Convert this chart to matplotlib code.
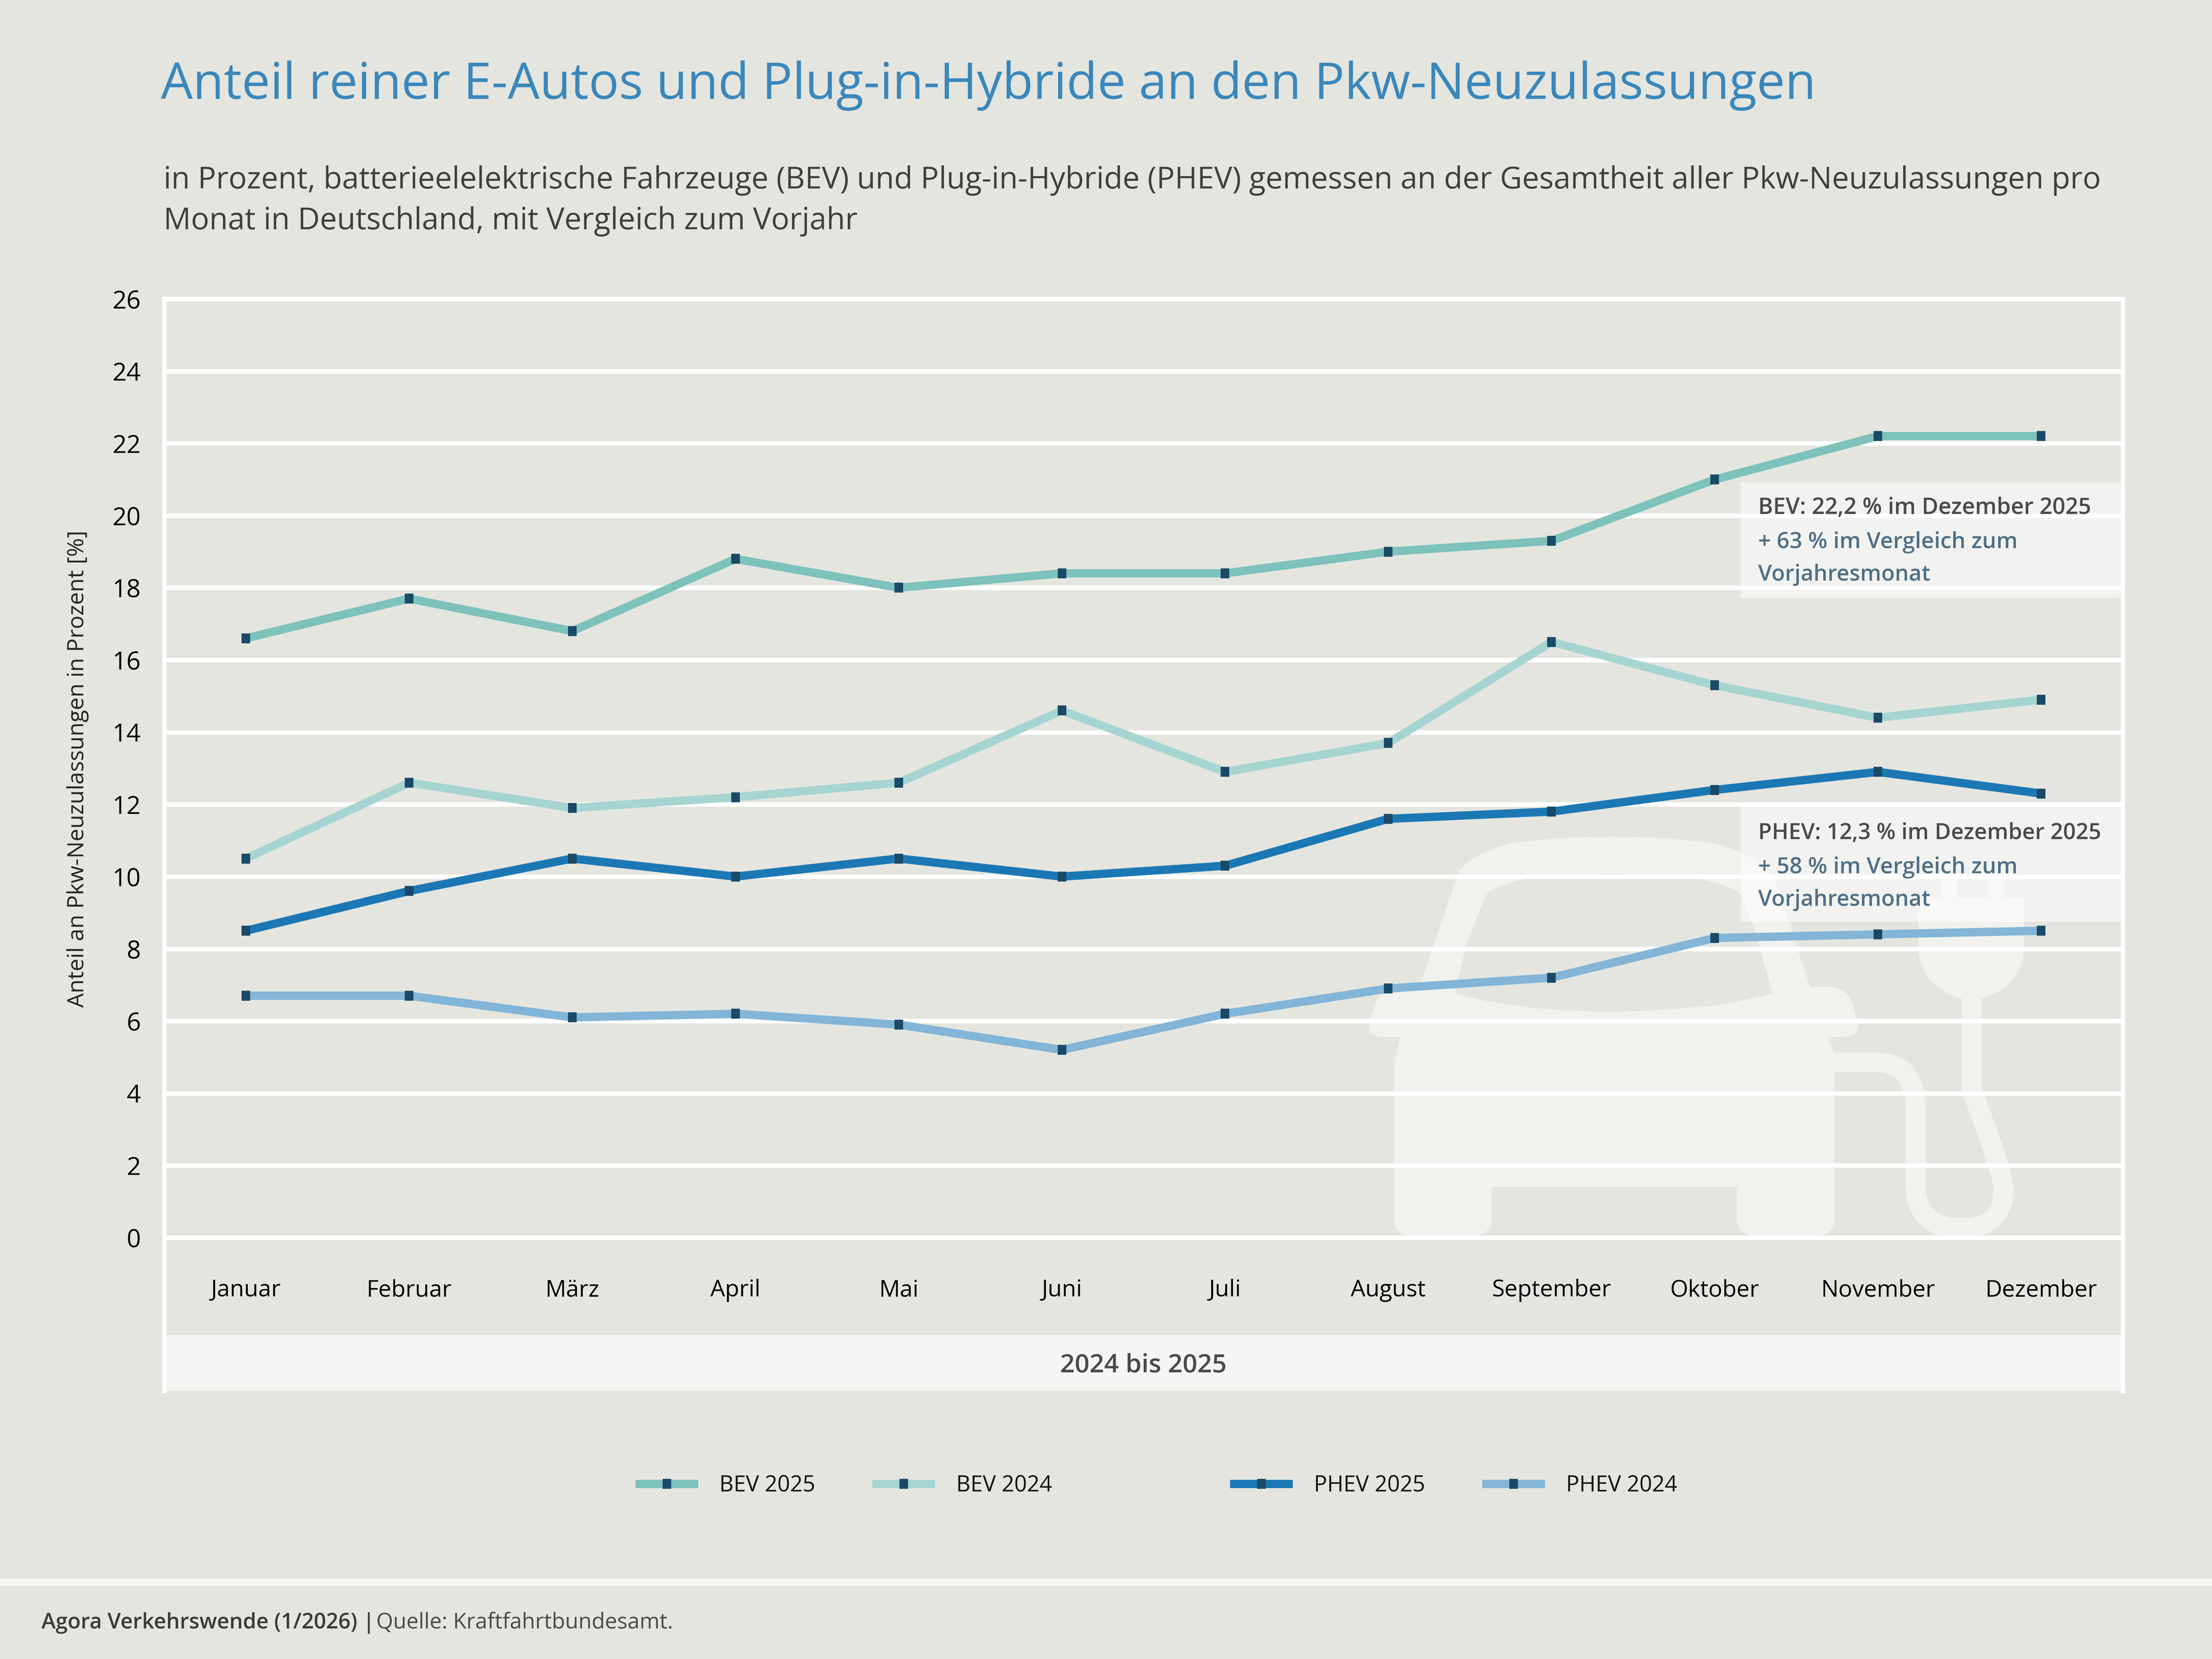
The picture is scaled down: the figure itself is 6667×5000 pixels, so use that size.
import matplotlib
matplotlib.use("Agg")
import matplotlib.pyplot as plt
from matplotlib.path import Path
from matplotlib.patches import PathPatch, Rectangle
from matplotlib.transforms import Affine2D

months = ["Januar", "Februar", "März", "April", "Mai", "Juni", "Juli", "August",
          "September", "Oktober", "November", "Dezember"]
bev_2025 = [16.6, 17.7, 16.8, 18.8, 18.0, 18.4, 18.4, 19.0, 19.3, 21.0, 22.2, 22.2]
bev_2024 = [10.5, 12.6, 11.9, 12.2, 12.6, 14.6, 12.9, 13.7, 16.5, 15.3, 14.4, 14.9]
phev_2025 = [8.5, 9.6, 10.5, 10.0, 10.5, 10.0, 10.3, 11.6, 11.8, 12.4, 12.9, 12.3]
phev_2024 = [6.7, 6.7, 6.1, 6.2, 5.9, 5.2, 6.2, 6.9, 7.2, 8.3, 8.4, 8.5]
yticks = list(range(0, 27, 2))

W, H, DPI = 6667, 5000, 600
PX = 72 / DPI
BG = "#e4e5df"
plt.rcParams["font.family"] = ["Open Sans", "DejaVu Sans"]

fig = plt.figure(figsize=(W / DPI, H / DPI), dpi=DPI, facecolor=BG)

def fx(x): return x / W
def fy(y): return 1 - y / H

L, R, T, B, Y0 = 495, 6398, 901, 4192, 3730
unit = (Y0 - T) / 26
ymin = -(B - Y0) / unit
ax = fig.add_axes([fx(L), fy(B), (R - L) / W, (B - T) / H], facecolor="none")
ax.set_xlim(-0.5, 11.5)
ax.set_ylim(ymin, 26)

ax.set_axisbelow(True)
ax.set_yticks(yticks)
ax.set_xticks(range(12))
ax.set_xticklabels(months)
ax.grid(axis="y", color="white", lw=13.5 * PX)
for gl in ax.get_ygridlines():
    gl.set_clip_on(False)
ax.tick_params(axis="y", length=0, pad=8.5, labelsize=9.0, labelcolor="black")
ax.tick_params(axis="x", length=0, pad=-40.5, labelsize=8.4, labelcolor="black")
for s in ("top", "bottom"):
    ax.spines[s].set_visible(False)
for s in ("left", "right"):
    ax.spines[s].set_color("white")
    ax.spines[s].set_linewidth(12.5 * PX)

# band below the month labels
ax.axhspan(ymin, (Y0 - 4023) / unit, color="#f5f5f3", lw=0, zorder=0.3)
ax.text(5.5, (Y0 - 4116) / unit, "2024 bis 2025", ha="center", va="center",
        fontsize=9.3, color="#4a4a48", fontweight="semibold")

# icon: geometry in px of a reference crop
icon_tf = Affine2D().scale(2600 / 1568, -1500 / 1568).translate(3900, H - 2300)
ICON = "#f1f2ee"
M, LN, C, Z = Path.MOVETO, Path.LINETO, Path.CURVE3, Path.CLOSEPOLY
car = [
    (M, (300, 340)), (C, (325, 285)), (C, (390, 255)), (C, (470, 232)), (C, (575, 232)),
    (C, (690, 232)), (C, (770, 255)), (C, (850, 295)), (C, (875, 370)),
    (LN, (938, 705)), (LN, (975, 705)), (C, (1010, 710)), (C, (1018, 775)), (LN, (1026, 825)),
    (C, (1026, 862)), (C, (1000, 862)), (LN, (970, 862)), (LN, (982, 915)),
    (LN, (982, 1440)), (C, (982, 1495)), (C, (925, 1495)), (LN, (860, 1495)),
    (C, (805, 1495)), (C, (805, 1440)), (LN, (805, 1335)), (LN, (359, 1335)), (LN, (359, 1440)),
    (C, (359, 1495)), (C, (300, 1495)), (LN, (240, 1495)), (C, (182, 1495)), (C, (182, 1440)),
    (LN, (182, 950)), (LN, (193, 862)), (LN, (160, 862)), (C, (136, 862)), (C, (136, 825)),
    (LN, (150, 750)), (C, (158, 710)), (C, (228, 705)), (LN, (300, 340)), (Z, (300, 340)),
    # windscreen hole, wound the other way
    (M, (292, 725)), (C, (350, 755)), (C, (430, 770)), (C, (500, 783)), (C, (575, 783)),
    (C, (650, 783)), (C, (720, 770)), (C, (800, 760)), (C, (870, 725)),
    (LN, (840, 540)), (LN, (815, 420)), (C, (800, 385)), (C, (730, 362)), (C, (660, 350)),
    (C, (575, 350)), (C, (500, 350)), (C, (430, 362)), (C, (360, 385)), (C, (348, 420)),
    (LN, (315, 560)), (LN, (292, 725)), (Z, (292, 725)),
]
cable = [
    (M, (975, 943)), (LN, (1065, 943)), (C, (1130, 950)), (C, (1130, 1090)), (LN, (1130, 1340)),
    (C, (1135, 1465)), (C, (1213, 1465)), (C, (1290, 1465)), (C, (1290, 1340)),
    (C, (1285, 1270)), (C, (1232, 1030)), (C, (1232, 990)), (C, (1232, 960)), (LN, (1232, 740)),
]
plug = [
    (M, (1135, 425)), (LN, (1178, 425)), (LN, (1178, 340)), (LN, (1205, 340)), (LN, (1205, 425)),
    (LN, (1262, 425)), (LN, (1262, 340)), (LN, (1290, 340)), (LN, (1290, 425)), (LN, (1327, 425)),
    (LN, (1327, 590)), (C, (1320, 720)), (C, (1232, 750)), (C, (1142, 720)), (C, (1135, 590)),
    (LN, (1135, 425)), (Z, (1135, 425)),
]
def mk(seq):
    return Path([p for _, p in seq], [c for c, _ in seq])
for seq, stroke in ((car, False), (plug, False), (cable, True)):
    patch = PathPatch(mk(seq), transform=icon_tf, clip_on=False, zorder=0.2,
                      facecolor="none" if stroke else ICON,
                      edgecolor=ICON if stroke else "none",
                      lw=60 * PX if stroke else 0)
    ax.add_artist(patch)

# annotation boxes
for top in (1454, 2430):
    fig.add_artist(Rectangle((fx(5247), fy(top + 348)), (6392 - 5247) / W, 348 / H,
                             transform=fig.transFigure, facecolor="white", alpha=0.55,
                             lw=0, zorder=2.5))

# series
MARK = "#1a4a68"
TALL = [(-0.87, -1), (0.87, -1), (0.87, 1), (-0.87, 1), (-0.87, -1)]
series = [("BEV 2025", bev_2025, "#7dc2bb"), ("BEV 2024", bev_2024, "#a6d5d1"),
          ("PHEV 2025", phev_2025, "#1b78b5"), ("PHEV 2024", phev_2024, "#82b5d7")]
lines = []
for name, vals, col in series:
    ln, = ax.plot(range(12), vals, color=col, lw=25 * PX, marker=TALL, ms=30 * PX,
                  mfc=MARK, mec="none", label=name, zorder=3, solid_joinstyle="miter",
                  solid_capstyle="butt")
    lines.append(ln)

# annotation text
def t(x, y, s, **kw):
    kw.setdefault("va", "center")
    return fig.text(fx(x), fy(y), s, zorder=5, **kw)

DARK, BLUE = "#4a4a48", "#4f6f86"
for y, s, c, fs in [(1532, "BEV: 22,2 % im Dezember 2025", DARK, 8.2),
                    (1634, "+ 63 % im Vergleich zum", BLUE, 8.1),
                    (1732, "Vorjahresmonat", BLUE, 8.0),
                    (2512, "PHEV: 12,3 % im Dezember 2025", DARK, 8.05),
                    (2614, "+ 58 % im Vergleich zum", BLUE, 8.1),
                    (2713, "Vorjahresmonat", BLUE, 8.0)]:
    t(5299, y, s, color=c, fontsize=fs, fontweight="semibold")

# headings
t(485, 258, "Anteil reiner E-Autos und Plug-in-Hybride an den Pkw-Neuzulassungen",
  color="#3a87bb", fontsize=18.25)
SUB = "#3f3f3d"
t(493, 544, "in Prozent, batterieelelektrische Fahrzeuge (BEV) und Plug-in-Hybride (PHEV) "
  "gemessen an der Gesamtheit aller Pkw-Neuzulassungen pro", color=SUB, fontsize=11.0)
t(493, 667, "Monat in Deutschland, mit Vergleich zum Vorjahr", color=SUB, fontsize=11.0)
t(234, 2317, "Anteil an Pkw-Neuzulassungen in Prozent [%]", rotation=90, ha="center",
  color="#222222", fontsize=8.2)

# footer
fig.add_artist(Rectangle((0, fy(4779)), 1, 21 / H, transform=fig.transFigure,
                         facecolor="#f7f7f5", lw=0))
t(125, 4891, "Agora Verkehrswende (1/2026) |", color="#3a3a38", fontsize=7.75, fontweight="semibold")
t(1134, 4891, "Quelle: Kraftfahrtbundesamt.", color="#4a4a48", fontsize=7.85)

# legends
FS = 8.0
fpx = FS / PX
for hs, x0 in ((lines[:2], 1915), (lines[2:], 3707)):
    leg = fig.legend(handles=hs, loc="center left", bbox_to_anchor=(fx(x0), fy(4478)),
                     ncol=2, frameon=False, fontsize=FS, numpoints=1, borderpad=0, borderaxespad=0,
                     handlelength=189 / fpx, handletextpad=64 / fpx, columnspacing=172 / fpx)
    for h in leg.get_lines():
        h.set_linewidth(25 * PX)
    for tx in leg.get_texts():
        tx.set_color("#111111")

fig.savefig("out.png", dpi=DPI, facecolor=BG)
